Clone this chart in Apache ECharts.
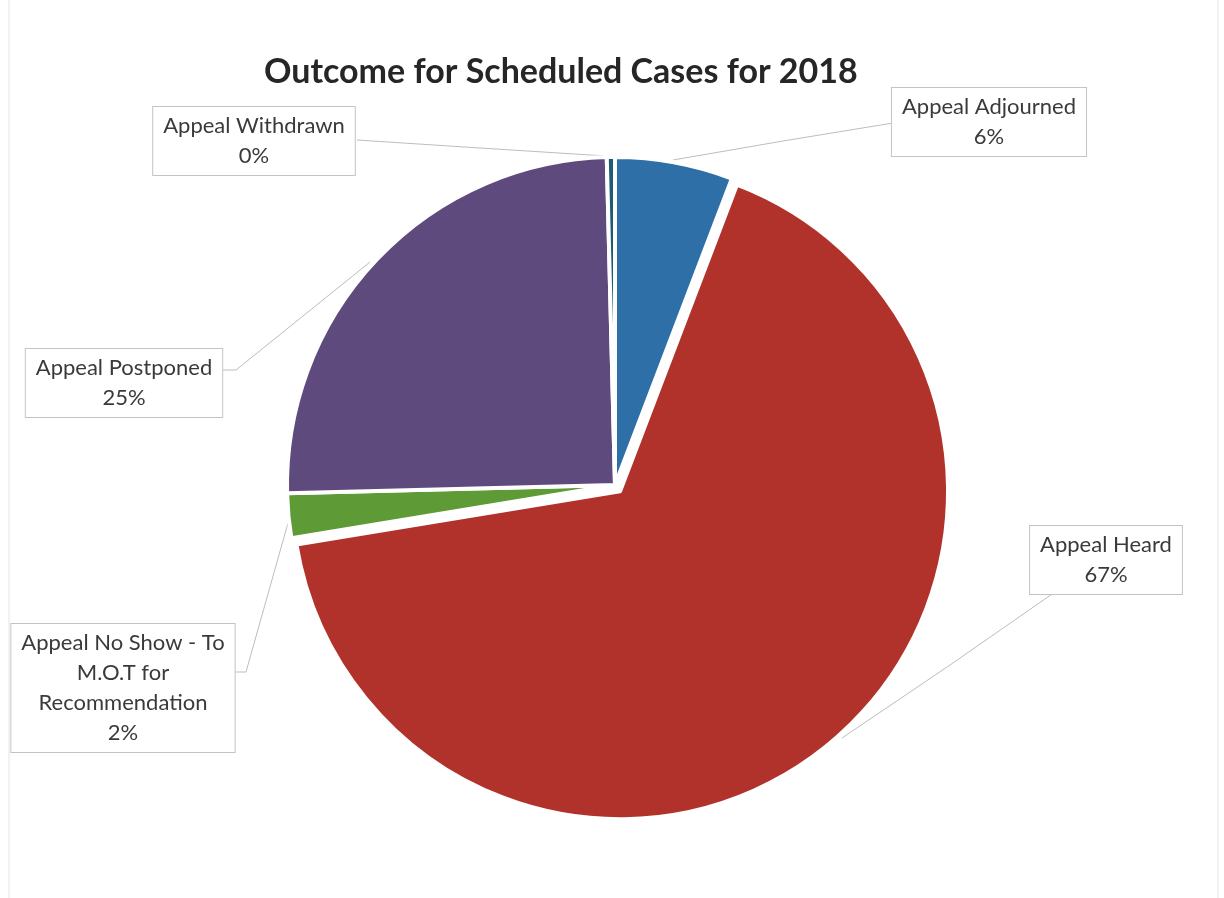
<!DOCTYPE html>
<html>
<head>
<meta charset="utf-8">
<script src="https://cdn.jsdelivr.net/npm/echarts@6/dist/echarts.min.js"></script>
<style>
html,body{margin:0;padding:0;background:#fff;}
#chart{width:1224px;height:898px;}
</style>
</head>
<body>
<div id="chart"></div>
<script>
// Data (percent of scheduled cases)
const categories = ['Appeal Adjourned', 'Appeal Heard', 'Appeal No Show - To M.O.T for Recommendation', 'Appeal Postponed', 'Appeal Withdrawn'];
const shares = [5.8, 66.6, 2.2, 25.0, 0.4];
const sliceColors = ['#2E6FA8', '#B0322B', '#5E9A35', '#5E4A7C', '#1F5C74'];
const explodedIndex = 1;
const titleText = 'Outcome for Scheduled Cases for 2018';

// label box placement (centres) and leader line points
const labelPos = [
  {x: 989, y: 122, line: [[673, 160], [783, 141], [893, 123]]},
  {x: 1106, y: 560, line: [[842, 738], [950, 665], [1055, 592]]},
  {x: 123, y: 688, line: [[288, 523], [246, 672], [234, 672]]},
  {x: 124, y: 383, line: [[370, 262], [236, 370], [222, 370]]},
  {x: 254, y: 141, line: [[606, 156], [480, 148], [357, 140]]}
];

const wrapName = n => n.replace(' M.O.T', '\nM.O.T').replace(' Recommendation', '\nRecommendation');

const CX = 615, CY = 485, R = 328, EXPLODE = 8;
// offset of the exploded slice along its mid angle
const total = shares.reduce((a, b) => a + b, 0);
let before = 0;
for (let i = 0; i < explodedIndex; i++) before += shares[i];
const midFrac = (before + shares[explodedIndex] / 2) / total;
const midAng = midFrac * 2 * Math.PI;
const ex = CX + Math.sin(midAng) * EXPLODE;
const ey = CY - Math.cos(midAng) * EXPLODE;

const chart = echarts.init(document.getElementById('chart'));
const FONT = 'Lato, "Open Sans", sans-serif';
const clear = 'rgba(0,0,0,0)';
chart.setOption({
  animation: false,
  backgroundColor: '#ffffff',
  title: {
    text: titleText,
    left: 259,
    top: 50,
    textStyle: {fontFamily: FONT, fontSize: 34, fontWeight: 'bold', color: '#262626'}
  },
  graphic: [
    {type: 'line', shape: {x1: 9, y1: 0, x2: 9, y2: 898}, style: {stroke: '#e4e4e4', lineWidth: 1}},
    {type: 'line', shape: {x1: 1218, y1: 0, x2: 1218, y2: 898}, style: {stroke: '#e4e4e4', lineWidth: 1}}
  ],
  series: [{
    type: 'pie',
    center: [CX, CY],
    radius: R,
    startAngle: 90,
    clockwise: true,
    selectedMode: false,
    emphasis: {disabled: true},
    itemStyle: {borderColor: '#ffffff', borderWidth: 4},
    data: categories.map((c, i) => ({
      name: c,
      value: shares[i],
      itemStyle: i === explodedIndex
        ? {color: clear, borderWidth: 0}
        : {color: sliceColors[i]}
    })),
    label: {
      show: true,
      formatter: p => wrapName(p.name) + '\n' + Math.round(p.percent) + '%',
      fontFamily: FONT,
      fontSize: 22,
      lineHeight: 30,
      color: '#3a3a3a',
      align: 'center',
      backgroundColor: '#ffffff',
      borderColor: '#c4c4c4',
      borderWidth: 1,
      padding: [4, 10, 4, 10]
    },
    labelLine: {show: true, lineStyle: {color: '#bdbdbd', width: 1}},
    labelLayout: function (params) {
      const lp = labelPos[params.dataIndex];
      return {
        x: lp.x,
        y: lp.y,
        align: 'center',
        verticalAlign: 'middle',
        labelLinePoints: lp.line
      };
    }
  }, {
    type: 'pie',
    center: [ex, ey],
    radius: R,
    startAngle: 90,
    clockwise: true,
    silent: true,
    selectedMode: false,
    emphasis: {disabled: true},
    label: {show: false},
    labelLine: {show: false},
    data: categories.map((c, i) => ({
      name: c,
      value: shares[i],
      itemStyle: i === explodedIndex
        ? {color: sliceColors[i], borderColor: '#ffffff', borderWidth: 4}
        : {color: clear, borderWidth: 0}
    }))
  }],
  legend: {show: false}
});
</script>
</body>
</html>
